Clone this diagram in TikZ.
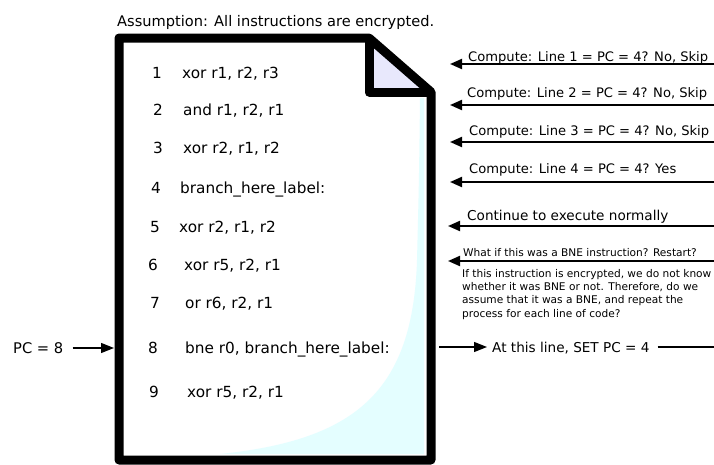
\documentclass[tikz,border=0pt]{standalone}
\usepackage{fontspec}
\setmainfont{DejaVu Sans}
\usetikzlibrary{arrows.meta,positioning}
\definecolor{FoldLilac}{RGB}{232,232,252}
\definecolor{CurlCyan}{RGB}{228,254,255}

\begin{document}
\begin{tikzpicture}[x=1pt, y=-1pt,
    txt/.style={inner sep=0pt, anchor=base west},
    code/.style={txt, font=\fontsize{15.3}{18}\selectfont},
    note/.style={txt, font=\fontsize{13.6}{16}\selectfont},
    check/.style={txt, font=\fontsize{13.1}{16}\selectfont},
    small/.style={inner sep=0pt, anchor=north west, align=left,
                  font=\fontsize{10.6}{13.3}\selectfont},
    edge/.style={line width=9pt, line join=round},
    inarr/.style={-{Triangle[length=12pt,width=10pt]}, line width=2pt},
    ptr/.style={-{Triangle[length=13pt,width=10pt]}, line width=1.3pt}
]
\useasboundingbox (0,0) rectangle (714,464);

% page corners
\coordinate (pg nw) at (119,38);
\coordinate (pg fold) at (369,38);
\coordinate (pg ne) at (431,92);
\coordinate (pg se) at (431,460);
\coordinate (pg sw) at (119,460);
\coordinate (fold in) at (369,92);

% page body, curl and dog-ear
\fill[white] (pg nw) -- (pg fold) -- (pg ne) -- (pg se) -- (pg sw) -- cycle;
\fill[CurlCyan] (424,98) -- (424,454) -- (220,454)
    .. controls (355,440) and (413,392) .. (417,260)
    .. controls (419,180) .. (420,98) -- cycle;
\fill[FoldLilac] (pg fold) -- (pg ne) -- (fold in) -- cycle;
\draw[edge] (pg nw) -- (pg fold) -- (pg ne) -- (pg se) -- (pg sw) -- cycle;
\draw[edge] (pg fold) -- (fold in) -- (pg ne);

\node[txt, font=\fontsize{14.6}{17}\selectfont] (title) at (117,26)
    {Assumption: All instructions are encrypted.};

% listing
\node[code] (n1) at (152,78) {1};
\node[code] (i1) at (182,78) {xor r1, r2, r3};
\node[code] (n2) at (153,115) {2};
\node[code] (i2) at (183,115) {and r1, r2, r1};
\node[code] (n3) at (153,153) {3};
\node[code] (i3) at (183,153) {xor r2, r1, r2};
\node[code] (n4) at (151,193) {4};
\node[code] (i4) at (180,193) {branch\_here\_label:};
\node[code] (n5) at (150,232) {5};
\node[code] (i5) at (179,232) {xor r2, r1, r2};
\node[code] (n6) at (148,270) {6};
\node[code] (i6) at (184,270) {xor r5, r2, r1};
\node[code] (n7) at (150,308) {7};
\node[code] (i7) at (185,308) {or r6, r2, r1};
\node[code] (n8) at (148,353) {8};
\node[code] (i8) at (185,353) {bne r0, branch\_here\_label:};
\node[code] (n9) at (149,397) {9};
\node[code] (i9) at (187,397) {xor r5, r2, r1};

% incoming checks on the right
\coordinate (tip) at (450,0);
\coordinate (r1) at (714,64);
\coordinate (r2) at (714,105);
\coordinate (r3) at (714,142);
\coordinate (r4) at (714,182);
\coordinate (r5) at (714,226);
\coordinate (r6) at (714,261);

\node[check] (c1) at (468,61) {Compute: Line 1 = PC = 4? No, Skip};
\node[check] (c2) at (467,97) {Compute: Line 2 = PC = 4? No, Skip};
\node[check] (c3) at (469,135) {Compute: Line 3 = PC = 4? No, Skip};
\node[check] (c4) at (469,173) {Compute: Line 4 = PC = 4? Yes};
\node[note] (c5) at (467,220) {Continue to execute normally};
\node[txt, font=\fontsize{10.6}{13}\selectfont] (c6) at (463,256)
    {What if this was a BNE instruction? Restart?};
\node[small] (why) at (462,269) {If this instruction is encrypted, we do not know\\
whether it was BNE or not. Therefore, do we\\
assume that it was a BNE, and repeat the\\
process for each line of code?};

\draw[inarr] (r1) -- (r1 -| tip);
\draw[inarr] (r2) -- (r2 -| tip);
\draw[inarr] (r3) -- (r3 -| tip);
\draw[inarr] (r4) -- (r4 -| tip);
\draw[inarr] (r5) -- ([xshift=-2pt]r5 -| tip);
\draw[inarr] (r6) -- ([xshift=-2pt]r6 -| tip);

% jump back
\coordinate (src8) at (439,347);
\coordinate (out8) at (714,347);
\node[note] (setpc) at (492,352) {At this line, SET PC = 4};
\draw[ptr, shorten >=5pt] (src8) -- (src8 -| setpc.west);
\draw[line width=1.3pt, shorten <=8pt] (setpc.east |- src8) -- (out8);

% program counter
\coordinate (pcin) at (114,348);
\node[txt, font=\fontsize{14.7}{17}\selectfont] (pc) at (13,353) {PC = 8};
\draw[ptr, shorten <=9pt] (pc.east |- pcin) -- (pcin);

\end{tikzpicture}
\end{document}
